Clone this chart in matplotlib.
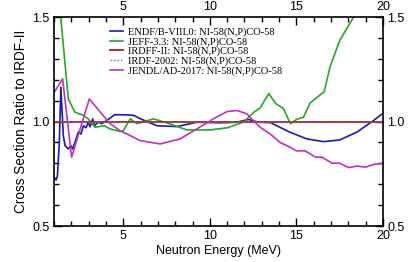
import matplotlib
matplotlib.use('Agg')
import matplotlib.pyplot as plt
from matplotlib.ticker import MultipleLocator

# ENDF/B-VIII.0
endf_e = [1.05, 1.12, 1.2, 1.31, 1.40, 1.54, 1.64, 1.83, 1.98, 2.08, 2.21, 2.41, 2.56, 2.7, 2.85, 2.98,
          3.08, 3.24, 3.33, 3.56, 3.76, 3.95, 4.24, 4.5, 5.2, 5.6, 6.0, 6.95, 8.1, 9.25, 10.6, 11.56,
          12.23, 12.8, 13.5, 14.6, 15.6, 16.57, 17.5, 18.5, 19.45, 20.0]
endf_r = [0.73, 0.72, 0.74, 0.90, 1.164, 0.933, 0.885, 0.869, 0.885, 0.869, 0.90, 0.95, 0.94, 0.98, 0.97, 0.997,
          0.975, 1.013, 0.98, 0.997, 0.99, 1.0, 1.016, 1.033, 1.032, 1.03, 1.013, 0.98, 0.976, 0.997, 0.994, 0.997,
          1.01, 0.997, 0.995, 0.95, 0.917, 0.904, 0.912, 0.95, 1.005, 1.04]

# JEFF-3.3
jeff_e = [1.2, 1.39, 1.83, 2.21, 2.7, 2.98, 3.37, 3.9, 4.24, 4.8, 5.0, 5.4, 5.8, 6.75, 7.7, 8.67, 10.0,
          11.0, 11.93, 12.55, 12.9, 13.4, 13.8, 14.25, 14.65, 15.04, 15.4, 15.8, 16.6, 16.95, 17.5, 18.3, 18.8]
jeff_r = [1.9, 1.5, 1.108, 1.045, 1.03, 1.013, 0.973, 0.98, 0.965, 0.953, 0.955, 1.013, 0.99, 1.013, 0.989, 0.96, 0.96,
          0.97, 0.997, 1.045, 1.065, 1.134, 1.087, 1.062, 0.99, 1.012, 1.02, 1.09, 1.143, 1.265, 1.388, 1.5, 1.6]

# JENDL/AD-2017
jendl_e = [1.0, 1.5, 2.02, 3.04, 4.24, 4.8, 5.4, 5.97, 7.13, 8.28, 9.25, 10.2, 11.0, 11.56, 12.14, 12.33,
           12.9, 13.5, 14.06, 14.64, 15.0, 15.5, 16.1, 16.47, 17.05, 17.5, 18.0, 18.5, 19.0, 19.45, 20.0]
jendl_r = [1.138, 1.204, 0.83, 1.108, 0.99, 0.957, 0.933, 0.909, 0.893, 0.917, 0.965, 1.013, 1.048, 1.053, 1.037, 1.02,
           0.973, 0.94, 0.9, 0.877, 0.86, 0.86, 0.83, 0.83, 0.801, 0.801, 0.78, 0.787, 0.782, 0.795, 0.80]

# IRDFF-II and IRDF-2002 (reference, ratio 1)
ref_e = [1.0, 20.0]
ref_r = [1.0, 1.0]

labels = ['ENDF/B-VIII.0: NI-58(N,P)CO-58',
          'JEFF-3.3: NI-58(N,P)CO-58',
          'IRDFF-II: NI-58(N,P)CO-58',
          'IRDF-2002: NI-58(N,P)CO-58',
          'JENDL/AD-2017: NI-58(N,P)CO-58']

plt.rcParams['font.family'] = ['Liberation Sans', 'DejaVu Sans']

fig = plt.figure(figsize=(4.15, 2.62), dpi=100)
ax = fig.add_axes([0.130, 0.137, 0.793, 0.798])

lw = 1.2
ax.plot(endf_e, endf_r, color='#1a1ab8', lw=lw, label=labels[0])
ax.plot(jeff_e, jeff_r, color='#22aa22', lw=lw, label=labels[1])
ax.plot(ref_e, ref_r, color='#b03030', lw=1.4, label=labels[2])
ax.plot(ref_e, ref_r, color='#707070', lw=1.0, ls=(0, (1, 1.5)), label=labels[3])
ax.plot(jendl_e, jendl_r, color='#c030c0', lw=lw, label=labels[4])

ax.set_xlim(1, 20)
ax.set_ylim(0.5, 1.5)
ax.xaxis.set_major_locator(MultipleLocator(5))
ax.xaxis.set_minor_locator(MultipleLocator(1))
ax.yaxis.set_major_locator(MultipleLocator(0.5))
ax.yaxis.set_minor_locator(MultipleLocator(0.1))
ax.tick_params(which='both', direction='in', top=True, right=True,
               labeltop=True, labelright=True, labelsize=9, width=1.0, pad=3)
ax.tick_params(which='major', length=6)
ax.tick_params(which='minor', length=3.5)
for s in ax.spines.values():
    s.set_linewidth(1.2)

ax.set_xlabel('Neutron Energy (MeV)', fontsize=9, labelpad=2)
ax.set_ylabel('Cross Section Ratio to IRDF-II', fontsize=9.8, labelpad=3)

leg = ax.legend(loc='upper left', bbox_to_anchor=(0.165, 0.96), frameon=False,
                prop={'family': 'Liberation Serif', 'size': 7.5},
                handlelength=1.2, handletextpad=0.45, labelspacing=0.0,
                borderpad=0.2, borderaxespad=0)

fig.savefig('out.png', dpi=100)
